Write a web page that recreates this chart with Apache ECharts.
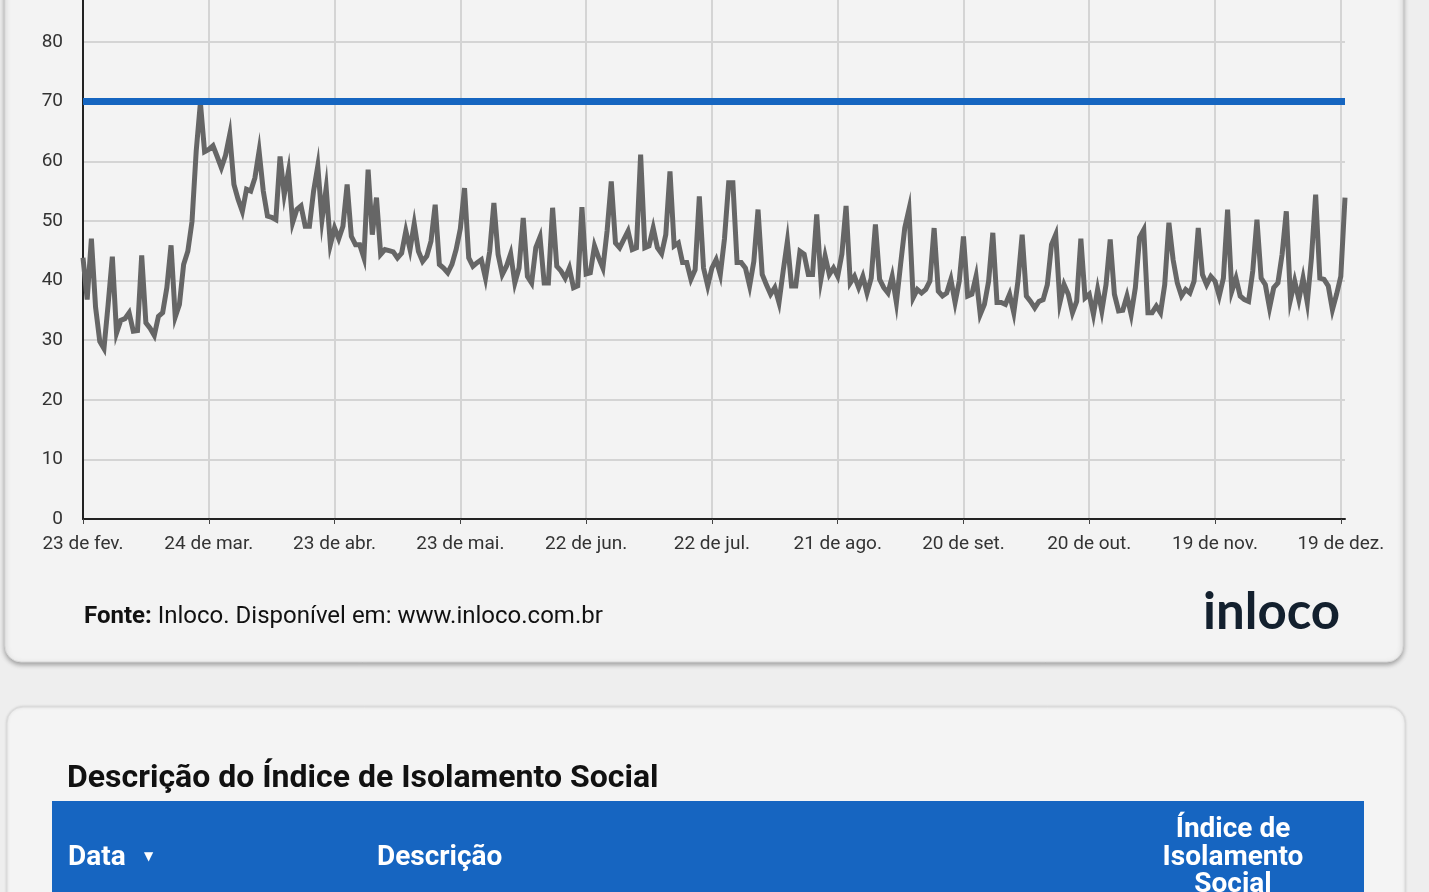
<!DOCTYPE html>
<html><head><meta charset="utf-8">
<script src="https://cdn.jsdelivr.net/npm/echarts@6/dist/echarts.min.js"></script>
<style>html,body{margin:0;padding:0;background:#eeeeee;overflow:hidden;width:1429px;height:892px;position:relative;}
#c{position:absolute;left:0;top:-60px;width:1429px;height:952px;}</style>
</head><body><div id="c"></div>
<script>
// ---- data ----
const startDate = [2020, 1, 23]; // 23 Feb 2020
const monthAbbr = ["jan.","fev.","mar.","abr.","mai.","jun.","jul.","ago.","set.","out.","nov.","dez."];
const isolationIndex = [
43.8,36.8,47.0,35.5,29.8,28.6,36.0,44.0,31.2,33.3,33.6,34.6,31.5,31.6,44.2,32.9,32.0,30.8,34.0,34.6,
38.8,45.9,33.9,36.0,42.7,44.9,49.9,61.7,69.8,61.6,62.0,62.6,60.8,58.9,61.0,64.5,56.1,53.6,51.6,55.3,
55.0,57.2,61.7,55.0,50.8,50.6,50.2,60.8,54.4,58.3,49.7,51.9,52.5,49.1,49.1,55.0,59.2,50.2,55.5,46.0,
48.8,47.0,49.1,56.1,47.4,46.0,46.0,43.8,58.6,47.7,53.9,44.4,45.2,45.0,44.8,43.8,44.6,48.3,45.2,49.5,
44.9,43.2,44.1,46.6,52.7,42.7,42.1,41.3,42.7,45.2,48.7,55.5,43.8,42.4,43.0,43.5,40.4,44.9,53.0,44.4,
41.0,42.4,44.5,39.6,42.1,50.5,40.7,39.6,45.5,47.3,39.6,39.6,52.2,42.4,41.6,40.4,42.1,38.8,39.1,52.3,
41.1,41.3,45.8,43.8,42.1,48.3,56.6,46.3,45.5,46.9,48.3,45.2,45.5,61.1,45.5,45.8,48.8,45.5,44.5,47.7,
58.3,45.8,46.3,43.0,43.0,40.2,41.8,54.1,42.1,39.1,42.1,43.5,41.0,47.0,56.4,56.4,43.0,43.0,42.1,39.1,
43.2,51.9,41.0,39.3,37.7,38.8,36.3,41.6,46.6,39.1,39.1,44.9,44.4,41.0,41.0,51.1,40.2,44.1,41.0,42.1,
40.7,44.4,52.5,39.6,40.7,38.8,40.7,37.9,40.4,49.4,40.2,38.8,37.9,40.7,36.3,42.7,48.8,51.9,37.1,38.5,
37.9,38.5,39.9,48.8,38.2,37.4,37.9,40.2,36.3,39.9,47.4,37.4,37.7,40.7,34.3,36.0,39.9,48.0,36.3,36.3,
36.0,37.7,34.6,39.9,47.7,37.4,36.5,35.4,36.5,36.8,39.3,46.0,47.7,36.3,39.3,37.7,34.6,36.5,47.0,37.1,
37.7,34.3,38.5,34.9,39.3,46.9,37.7,34.9,35.0,37.4,34.3,38.8,47.2,48.5,34.6,34.6,35.7,34.6,39.3,49.7,
43.5,39.6,37.4,38.5,37.9,39.9,48.8,41.0,39.3,40.7,39.9,37.4,40.4,51.9,38.2,40.4,37.4,36.8,36.5,41.6,
50.2,40.4,39.3,35.4,38.8,39.6,44.4,51.6,36.8,39.9,36.8,40.4,36.3,43.8,54.4,40.4,40.2,39.1,35.1,37.7,
40.7,53.9
];
const thresholdValue = 70;
const yTicks = [0,10,20,30,40,50,60,70,80,90];
const labelEvery = 30; // one x label every 30 days

// categories: one per day
const dayLabels = [];
for (let i = 0; i < isolationIndex.length; i++) {
  const d = new Date(startDate[0], startDate[1], startDate[2] + i);
  dayLabels.push(d.getDate() + " de " + monthAbbr[d.getMonth()]);
}

const OFF = 60; // the canvas starts 60px above the viewport
const chart = echarts.init(document.getElementById('c'), null, {renderer: 'canvas'});
const FONT = 'Roboto';
const pick = (idx) => idx % labelEvery === 0;
chart.setOption({
  backgroundColor: '#eeeeee',
  animation: false,
  textStyle: {fontFamily: FONT},
  graphic: [
    {type:'rect', z:-10, shape:{x:5, y:0, width:1398, height:662+OFF, r:16},
     style:{fill:'#f3f3f3', stroke:'#d8d8d8', lineWidth:1, shadowBlur:5, shadowOffsetY:2, shadowColor:'rgba(0,0,0,0.35)'}},
    {type:'rect', z:-10, shape:{x:7, y:707+OFF, width:1398, height:300, r:16},
     style:{fill:'#f4f4f4', stroke:'#dcdcdc', lineWidth:1, shadowBlur:3, shadowColor:'rgba(0,0,0,0.15)'}},
    {type:'text', z:5, x:84, y:617+OFF, style:{
      text:'{b|Fonte:} Inloco. Disponível em: www.inloco.com.br',
      rich:{b:{fontWeight:'bold', fontSize:24, fontFamily:FONT, fill:'#111'}},
      fontSize:24, fontFamily:FONT, fill:'#111', verticalAlign:'middle'}},
    {type:'text', z:5, x:1203, y:613+OFF, style:{text:'inloco', fontSize:51, fontFamily:'Lato', fontWeight:'bold',
      fill:'#13202e', verticalAlign:'middle'}},
    {type:'text', z:5, x:67, y:779+OFF, style:{text:'Descrição do Índice de Isolamento Social', fontSize:32,
      fontWeight:'bold', fontFamily:FONT, fill:'#111', verticalAlign:'middle'}},
    {type:'rect', z:5, shape:{x:52, y:801+OFF, width:1312, height:120}, style:{fill:'#1665c1'}},
    {type:'text', z:6, x:68, y:858+OFF, style:{text:'Data', fontSize:28, fontWeight:'bold', fontFamily:FONT,
      fill:'#ffffff', verticalAlign:'middle'}},
    {type:'text', z:6, x:144, y:857+OFF, style:{text:'▼', fontSize:12, fontFamily:'DejaVu Sans',
      fill:'#ffffff', verticalAlign:'middle'}},
    {type:'text', z:6, x:377, y:858+OFF, style:{text:'Descrição', fontSize:28, fontWeight:'bold', fontFamily:FONT,
      fill:'#ffffff', verticalAlign:'middle'}},
    {type:'text', z:6, x:1233, y:857.5+OFF, style:{text:'Índice de\nIsolamento\nSocial', fontSize:28, lineHeight:27.5,
      fontWeight:'bold', fontFamily:FONT, fill:'#ffffff', align:'center', verticalAlign:'middle'}}
  ],
  grid: {left: 83, right: 84, top: OFF - 17.6, bottom: 373, containLabel: false},
  xAxis: {
    type: 'category', boundaryGap: false, data: dayLabels,
    axisLine: {show: true, lineStyle: {color: '#222', width: 2}},
    axisTick: {show: true, interval: pick, length: 5, lineStyle: {color: '#444', width: 1}},
    axisLabel: {interval: pick, color: '#333', fontSize: 19, fontFamily: FONT, margin: 16, hideOverlap: false},
    splitLine: {show: true, interval: pick, lineStyle: {color: '#d4d4d4', width: 2}}
  },
  yAxis: {
    type: 'value', min: yTicks[0], max: yTicks[yTicks.length-1], interval: 10,
    axisLine: {show: true, lineStyle: {color: '#222', width: 2}},
    axisTick: {show: false},
    axisLabel: {color: '#333', fontSize: 19, fontFamily: FONT, margin: 20},
    splitLine: {show: true, lineStyle: {color: '#d4d4d4', width: 2}}
  },
  series: [{
    type: 'line', data: isolationIndex, showSymbol: false, symbol: 'none', z: 3,
    lineStyle: {color: '#666666', width: 5, join: 'miter'},
    markLine: {silent: true, symbol: 'none', label: {show: false}, z: 4,
      lineStyle: {color: '#1565c0', width: 7, type: 'solid'},
      data: [{yAxis: thresholdValue}]}
  }]
});
</script></body></html>
